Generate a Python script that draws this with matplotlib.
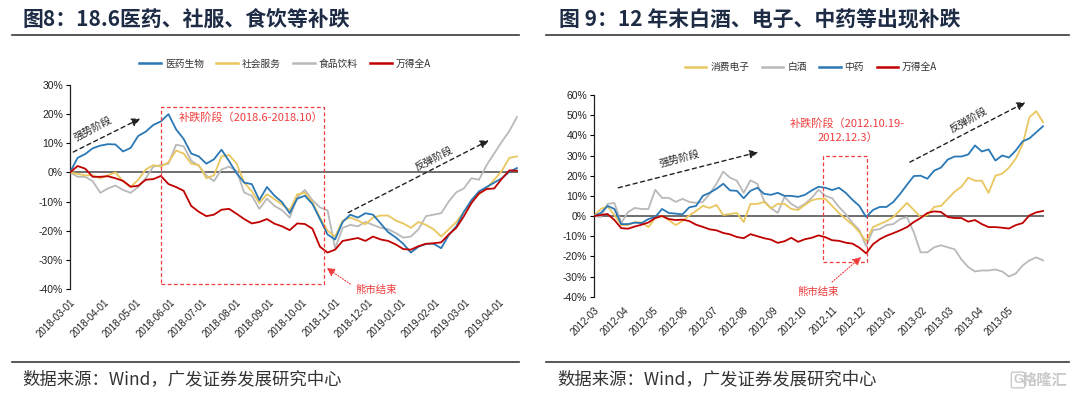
import numpy as np
import pandas as pd
import matplotlib
matplotlib.use("Agg")
import matplotlib.pyplot as plt
import matplotlib.dates as mdates
from matplotlib.lines import Line2D
from matplotlib.patches import Rectangle

plt.rcParams['font.family'] = ['Liberation Sans', 'Noto Sans CJK SC']
CJK = ['Noto Sans CJK SC', 'Liberation Sans']

# ---------------- data: left panel (weekly, from 2018-03-01) ----------------
left_dates = pd.date_range('2018-03-01', periods=60, freq='7D')
left_names = ['医药生物', '社会服务', '食品饮料', '万得全A']
left_med = [0, 5.0, 6.3, 8.3, 9.2, 9.7, 9.6, 7.2, 8.4, 12.5, 14.0, 16.3, 17.5, 20.0, 14.8, 11.5, 6.5, 5.5, 3.0, 4.5,
            7.8, 3.9, -0.3, -3.5, -4.0, -9.5, -5.0, -8.0, -10.2, -14.0, -9.0, -8.0, -10.8, -16.0, -21.3, -23.0, -17.0, -14.5, -15.5, -14.0,
            -14.5, -17.5, -20.5, -22.3, -24.5, -27.5, -25.5, -24.5, -24.5, -26.0, -21.5, -18.5, -13.5, -9.5, -6.5, -5.0, -3.5, -2.0, 0.2, 1.5]
left_svc = [0, -0.5, -1.0, -1.0, -2.0, -1.0, 0.0, -3.0, -5.0, -2.5, 1.0, 2.5, 2.0, 3.5, 7.5, 6.5, 3.0, 2.5, -2.0, -1.0,
            5.5, 6.0, 3.0, -3.5, -6.5, -10.5, -7.5, -9.2, -11.0, -13.0, -7.5, -7.0, -10.2, -15.5, -20.0, -22.0, -16.5, -15.5, -16.5, -17.8,
            -15.5, -14.8, -14.8, -16.5, -17.5, -19.0, -17.0, -18.0, -19.5, -22.0, -19.5, -17.0, -13.5, -10.0, -7.5, -5.5, -2.5, 0.5, 5.0, 5.5]
left_food = [0, -1.5, -1.5, -3.0, -7.0, -5.5, -4.5, -6.0, -7.0, -5.0, -2.0, 2.0, 2.5, 3.0, 9.5, 9.0, 4.0, 2.3, -1.0, -3.0,
             1.0, 2.0, 0.5, -6.9, -8.0, -12.5, -9.0, -11.5, -13.0, -15.5, -8.5, -6.0, -9.5, -12.0, -13.0, -26.0, -19.0, -18.0, -18.5, -17.0,
             -18.0, -19.0, -19.5, -20.8, -22.4, -22.0, -19.5, -15.0, -14.5, -14.0, -10.0, -6.8, -5.5, -2.0, -2.5, 2.5, 6.5, 10.5, 14.2, 19.0]
left_all = [0, 2.2, 1.3, -1.5, -1.5, -1.3, -2.0, -2.9, -4.9, -4.6, -2.5, -2.3, -1.2, -4.0, -5.0, -6.3, -11.5, -13.5, -15.0, -14.5,
            -12.8, -12.5, -14.2, -16.0, -17.5, -17.0, -16.0, -17.6, -18.5, -19.8, -17.5, -17.7, -19.3, -25.5, -27.5, -26.5, -23.5, -23.0, -22.5, -23.5,
            -22.0, -23.0, -23.5, -24.7, -26.3, -26.5, -25.3, -24.5, -24.3, -24.0, -21.3, -19.0, -15.0, -10.5, -7.2, -5.7, -5.5, -2.2, 0.7, 0.6]

# ---------------- data: right panel (weekly, from 2012-03-01) ----------------
right_dates = pd.date_range('2012-03-01', periods=67, freq='7D')
right_names = ['消费电子', '白酒', '中药', '万得全A']
right_elec = [0, 3.5, 4.8, 0.5, -4.5, -4.5, -3.0, -3.2, -5.5, -1.0, 0.0, -2.0, -4.5, -2.5, 0.3, 2.5, 5.0, 4.0, 5.5, 0.5, 1.0, 1.5, -3.0, 6.0, 6.0,
              7.0, 3.8, 6.0, 6.0, 3.5, 3.0, 5.5, 7.8, 8.6, 8.5, 5.0, 1.5, -1.5, -4.3, -8.0, -12.5, -5.5, -4.0, -2.5, -0.5, 3.0, 6.5, 3.0,
              -0.5, 0.5, 4.5, 5.0, 8.5, 12.0, 14.5, 19.0, 17.5, 17.5, 11.5, 20.0, 21.0, 24.0, 28.5, 35.5, 49.0, 52.0, 46.5]
right_liquor = [0, -0.5, 6.0, 6.5, -3.5, 2.0, 4.0, 3.5, 3.5, 13.0, 9.0, 9.0, 7.0, 8.5, 7.0, 6.5, 7.0, 11.0, 16.0, 22.0, 19.0, 17.5, 11.5, 17.7, 16.0,
                7.5, 4.0, 1.5, 9.5, 6.0, 4.0, 6.0, 9.0, 13.0, 10.0, 8.8, 4.5, 1.0, -3.5, -7.0, -15.0, -7.0, -6.5, -4.5, -4.0, -1.5, -0.5, -8.0,
                -18.0, -18.0, -15.5, -14.5, -15.5, -16.5, -21.5, -25.3, -27.5, -27.0, -27.0, -26.5, -27.5, -30.0, -28.5, -24.5, -22.0, -20.5, -22.0]
right_tcm = [0, 1.5, 5.0, 3.5, -4.0, -4.0, -3.3, -3.5, -1.5, -0.5, 3.5, 1.5, 1.2, 0.8, 4.3, 5.0, 10.0, 11.5, 13.5, 16.0, 12.7, 12.5, 8.8, 12.5, 14.0,
             11.0, 10.5, 11.5, 10.0, 10.0, 9.5, 10.5, 12.7, 14.5, 14.0, 12.9, 14.0, 11.5, 8.0, 5.0, -0.5, 3.0, 4.5, 4.5, 7.0, 11.0, 15.5, 19.8,
             20.0, 18.5, 22.5, 24.0, 28.0, 29.5, 29.5, 30.5, 35.0, 32.0, 33.0, 27.5, 30.0, 29.0, 32.5, 37.0, 38.5, 41.5, 44.5]
right_all = [0, 0.5, 1.0, -2.0, -6.0, -6.3, -5.2, -4.3, -3.2, -1.0, 0.0, -1.5, -2.0, -1.8, -2.5, -4.3, -5.4, -6.6, -7.1, -8.4, -9.1, -10.4, -11.0, -9.0, -10.0,
             -11.0, -11.7, -13.3, -12.5, -10.8, -12.8, -11.5, -10.8, -9.6, -10.5, -12.0, -12.3, -13.2, -13.7, -15.7, -18.5, -14.0, -11.5, -9.8, -8.5, -7.1, -5.5, -3.0,
             -1.0, 1.5, 2.3, 2.0, -0.5, -1.0, -1.0, -2.8, -2.0, -4.0, -5.5, -5.5, -5.8, -6.2, -4.5, -3.5, 0.3, 1.8, 2.5]

BLUE = '#2a78b6'
GOLD = '#e9c75e'
GRAY = '#b9b9b9'
RED = '#c00000'
ANN_RED = '#f03c3c'
TITLE_C = '#1d2b45'

W, H = 1080, 393
fig = plt.figure(figsize=(W / 100, H / 100), dpi=100)


def fx(px):
    return px / W


def fy(py):
    return 1 - py / H


def style_axis(ax, ylim, yticks, xticks, fmt, xlim):
    ax.set_xlim(*xlim)
    ax.set_ylim(*ylim)
    for s in ['top', 'right', 'bottom']:
        ax.spines[s].set_visible(False)
    ax.spines['left'].set_color('#222222')
    ax.spines['left'].set_linewidth(0.9)
    ax.set_yticks(yticks)
    ax.set_yticklabels([f'{t:.0f}%' for t in yticks], fontsize=7.5, color='#222222')
    ax.tick_params(axis='y', direction='out', length=3, width=0.8, pad=2)
    ax.set_xticks(xticks)
    ax.set_xticklabels([d.strftime(fmt) for d in xticks], fontsize=7, color='#222222',
                       rotation=45, ha='right', rotation_mode='anchor')
    ax.tick_params(axis='x', length=0, pad=6)
    ax.axhline(0, color='#555555', lw=1.2, zorder=1.5)
    ax.patch.set_alpha(0)


def dnum(s):
    return mdates.date2num(pd.Timestamp(s))


# ---------------- left chart ----------------
axL = fig.add_axes([fx(70), fy(289), fx(448), 204 / H])
axL.plot(left_dates, left_food, color=GRAY, lw=1.3, zorder=2)
axL.plot(left_dates, left_svc, color=GOLD, lw=1.3, zorder=3)
axL.plot(left_dates, left_med, color=BLUE, lw=1.3, zorder=4)
axL.plot(left_dates, left_all, color=RED, lw=1.3, zorder=5)
style_axis(axL, (-40, 30), range(-40, 31, 10),
           pd.date_range('2018-03-01', '2019-04-01', freq='MS'), '%Y-%m-%d',
           (pd.Timestamp('2018-03-01'), pd.Timestamp('2019-04-19')))

# annotations left
x0 = dnum('2018-05-24'); x1 = dnum('2018-10-22')
axL.add_patch(Rectangle((x0, -38.2), x1 - x0, 60.7, fill=False, ec=ANN_RED, ls=(0, (3, 2)), lw=0.9, zorder=6))
axL.text(pd.Timestamp('2018-06-09'), 18.9, '补跌阶段（2018.6-2018.10）', color=ANN_RED, fontsize=8,
         family=CJK, va='center', ha='left', zorder=7)
axL.annotate('', xy=(pd.Timestamp('2018-05-05'), 18.5), xytext=(pd.Timestamp('2018-03-04'), 7.0),
             arrowprops=dict(arrowstyle='-|>,head_length=0.5,head_width=0.25', ls=(0, (3, 2.5)), color='#222222',
                             lw=1.0, shrinkA=0, shrinkB=0), zorder=7)
axL.text(pd.Timestamp('2018-03-22'), 15.2, '强势阶段', color='#222222', fontsize=7.5, family=CJK,
         rotation=28, ha='center', va='center', rotation_mode='anchor', zorder=7)
axL.annotate('', xy=(pd.Timestamp('2019-03-23'), 11.0), xytext=(pd.Timestamp('2018-11-13'), -13.8),
             arrowprops=dict(arrowstyle='-|>,head_length=0.5,head_width=0.25', ls=(0, (3, 2.5)), color='#222222',
                             lw=1.0, shrinkA=0, shrinkB=0), zorder=7)
axL.text(pd.Timestamp('2019-01-31'), 4.7, '反弹阶段', color='#222222', fontsize=7.5, family=CJK,
         rotation=28, ha='center', va='center', rotation_mode='anchor', zorder=7)
axL.annotate('', xy=(pd.Timestamp('2018-10-24'), -32.7), xytext=(pd.Timestamp('2018-11-15'), -38.3),
             arrowprops=dict(arrowstyle='-|>,head_length=0.5,head_width=0.25', ls=(0, (1, 1.5)), color=ANN_RED,
                             lw=0.8, shrinkA=0, shrinkB=0), zorder=7, annotation_clip=False)
axL.text(pd.Timestamp('2018-12-09'), -40.4, '熊市结束', color=ANN_RED, fontsize=7.5, family=CJK,
         ha='center', va='center', zorder=7, clip_on=False)

# ---------------- right chart ----------------
axR = fig.add_axes([fx(594), fy(296.7), fx(450), 201.7 / H])
axR.plot(right_dates, right_liquor, color=GRAY, lw=1.3, zorder=2)
axR.plot(right_dates, right_elec, color=GOLD, lw=1.3, zorder=3)
axR.plot(right_dates, right_tcm, color=BLUE, lw=1.3, zorder=4)
axR.plot(right_dates, right_all, color=RED, lw=1.3, zorder=5)
style_axis(axR, (-40, 60), range(-40, 61, 10),
           pd.date_range('2012-03-01', '2013-05-01', freq='MS'), '%Y-%m',
           (pd.Timestamp('2012-03-01'), pd.Timestamp('2013-06-07')))

x0 = dnum('2012-10-23'); x1 = dnum('2012-12-07')
axR.add_patch(Rectangle((x0, -22.8), x1 - x0, 52.8, fill=False, ec=ANN_RED, ls=(0, (3, 2)), lw=0.9, zorder=6))
axR.text(pd.Timestamp('2012-11-17'), 45.7, '补跌阶段（2012.10.19-', color=ANN_RED, fontsize=8,
         family=CJK, va='center', ha='center', zorder=7)
axR.text(pd.Timestamp('2012-11-17'), 38.8, '2012.12.3）', color=ANN_RED, fontsize=8,
         family=CJK, va='center', ha='center', zorder=7)
axR.annotate('', xy=(pd.Timestamp('2012-08-17'), 31.7), xytext=(pd.Timestamp('2012-03-26'), 14.0),
             arrowprops=dict(arrowstyle='-|>,head_length=0.5,head_width=0.25', ls=(0, (3, 2.5)), color='#222222',
                             lw=1.0, shrinkA=0, shrinkB=0), zorder=7)
axR.text(pd.Timestamp('2012-05-28'), 28.4, '强势阶段', color='#222222', fontsize=7.5, family=CJK,
         rotation=15, ha='center', va='center', rotation_mode='anchor', zorder=7)
axR.annotate('', xy=(pd.Timestamp('2013-05-19'), 56.4), xytext=(pd.Timestamp('2013-01-20'), 26.7),
             arrowprops=dict(arrowstyle='-|>,head_length=0.5,head_width=0.25', ls=(0, (3, 2.5)), color='#222222',
                             lw=1.0, shrinkA=0, shrinkB=0), zorder=7)
axR.text(pd.Timestamp('2013-03-21'), 47.4, '反弹阶段', color='#222222', fontsize=7.5, family=CJK,
         rotation=30, ha='center', va='center', rotation_mode='anchor', zorder=7)
axR.annotate('', xy=(pd.Timestamp('2012-12-01'), -20.3), xytext=(pd.Timestamp('2012-11-01'), -32.7),
             arrowprops=dict(arrowstyle='-|>,head_length=0.5,head_width=0.25', ls=(0, (1, 1.5)), color=ANN_RED,
                             lw=0.8, shrinkA=0, shrinkB=0), zorder=7)
axR.text(pd.Timestamp('2012-10-18'), -37.6, '熊市结束', color=ANN_RED, fontsize=7.5, family=CJK,
         ha='center', va='center', zorder=7)

# ---------------- legends ----------------
def make_legend(names, colors, cx, cy):
    handles = [Line2D([], [], color=c, lw=1.8) for c in colors]
    leg = fig.legend(handles, names, loc='center', bbox_to_anchor=(fx(cx), fy(cy)), ncol=4, frameon=False,
                     prop={'family': CJK, 'size': 7}, handlelength=2.2, handletextpad=0.4, columnspacing=1.3)
    for t in leg.get_texts():
        t.set_color('#333333')


make_legend(left_names, [BLUE, GOLD, GRAY, RED], 285, 63.5)
make_legend(right_names, [GOLD, GRAY, BLUE, RED], 811, 67)

# ---------------- titles, rules, source ----------------
fig.text(fx(23), fy(20), '图8：18.6医药、社服、食饮等补跌', fontsize=15, fontweight='bold', color=TITLE_C,
         family=CJK, ha='left', va='center')
fig.text(fx(559), fy(20), '图 9：12 年末白酒、电子、中药等出现补跌', fontsize=15, fontweight='bold', color=TITLE_C,
         family=CJK, ha='left', va='center')
for (a, b) in [(12, 519), (546, 1069)]:
    fig.add_artist(Line2D([fx(a), fx(b)], [fy(35), fy(35)], color='#3a3a3a', lw=1.2))
    fig.add_artist(Line2D([fx(a), fx(b)], [fy(362), fy(362)], color='#3a3a3a', lw=1.2))
fig.text(fx(22), fy(379), '数据来源：Wind，广发证券发展研究中心', fontsize=12.5, color='#333333',
         family=CJK, ha='left', va='center')
fig.text(fx(557), fy(379), '数据来源：Wind，广发证券发展研究中心', fontsize=12.5, color='#333333',
         family=CJK, ha='left', va='center')
fig.text(fx(1045), fy(380), '格隆汇', fontsize=11, color='#c9c9c9', family=CJK, ha='center', va='center',
         fontweight='bold')
fig.text(fx(1018), fy(380), 'G', fontsize=9, color='#c9c9c9', ha='center', va='center', fontweight='bold',
         bbox=dict(boxstyle='round,pad=0.15', fc='none', ec='#c9c9c9', lw=1.0))

fig.savefig('out.png', dpi=100)
